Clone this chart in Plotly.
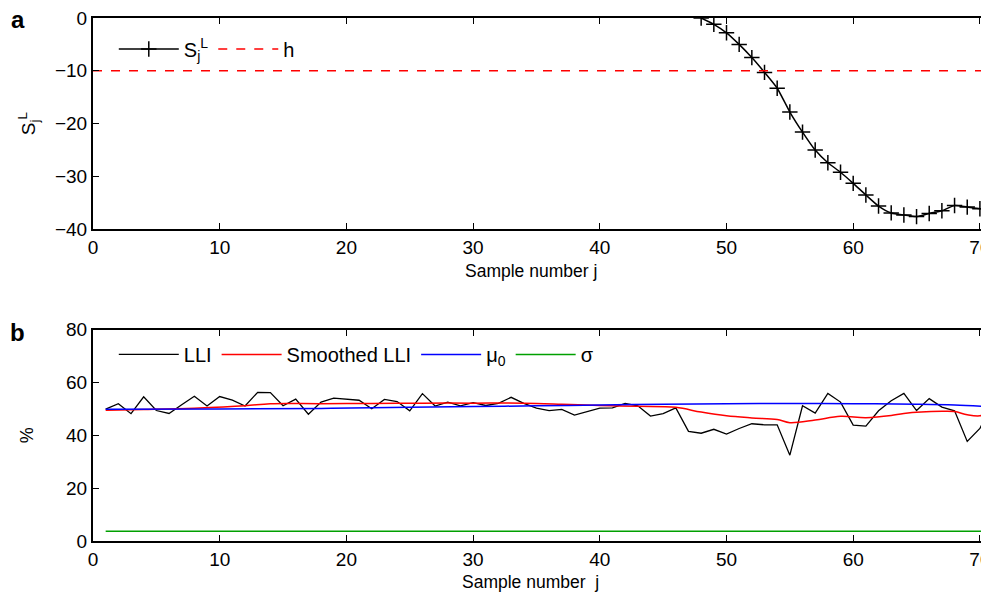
import plotly.graph_objects as go
from plotly.subplots import make_subplots

# panel a : lower CUSUM statistic
j_s = list(range(48, 72))
s_low = [0, -1.2, -2.8, -5.0, -7.5, -10.3, -13.3, -17.8, -21.6, -25.0, -27.4, -29.2,
         -31.3, -33.5, -35.6, -36.9, -37.3, -37.6, -37.0, -36.5, -35.5, -35.8, -36.1, -36.0]
h_level = -10

# panel b : LLI series
j = list(range(1, 72))
lli = [49.9, 52.0, 48.2, 54.6, 49.4, 48.3, 51.6, 54.8, 51.1, 54.7,
       53.3, 51.1, 56.3, 56.2, 51.2, 53.7, 48.0, 52.6, 54.1, 53.8,
       53.3, 50.1, 53.6, 52.8, 49.3, 55.8, 51.1, 52.6, 51.2, 52.4,
       51.3, 52.1, 54.4, 52.1, 50.3, 49.4, 49.8, 47.7, 49.1, 50.3,
       50.4, 52.1, 51.2, 47.3, 48.2, 50.4, 41.5, 40.8, 42.3, 40.5,
       42.6, 44.4, 44.0, 44.0, 32.5, 51.2, 48.4, 55.9, 52.6, 43.9,
       43.5, 49.3, 53.1, 55.9, 49.4, 53.9, 50.7, 49.3, 37.7, 42.6, 52.5]

j_smooth = [1, 4, 8, 12, 14, 18, 22, 26, 30, 34, 37, 40, 43, 46, 48, 50, 52, 54,
            55, 57, 59, 61, 63, 64, 67, 68, 69, 70, 71]
smoothed = [49.5, 49.8, 50.3, 51.2, 52.0, 52.0, 52.1, 52.2, 52.2, 52.2, 51.8, 51.3,
            51.0, 50.6, 48.8, 47.4, 46.6, 46.0, 44.8, 45.8, 47.2, 46.7, 47.5, 48.3,
            49.1, 49.0, 47.8, 47.4, 49.0]

j_mu = [1, 10, 18, 25, 30, 35, 40, 45, 50, 55, 60, 65, 68, 71]
mu0 = [49.9, 50.0, 50.2, 50.6, 50.9, 51.2, 51.5, 51.8, 52.0, 52.1, 52.0, 51.8, 51.5, 50.8]

j_sigma = [1, 72]
sigma = [3.7, 3.7]

FONT = "Liberation Sans, Arial, sans-serif"

fig = make_subplots(rows=2, cols=1, vertical_spacing=0.192)

fig.add_trace(go.Scatter(x=j_s, y=s_low, mode="lines+markers", name="S<sub>j</sub><sup>L</sup>",
                         line=dict(color="black", width=1.5, shape="spline", smoothing=0.6),
                         marker=dict(symbol="cross-thin", size=11, line=dict(color="black", width=1.5)),
                         legend="legend"), row=1, col=1)
fig.add_trace(go.Scatter(x=[0, 72], y=[h_level, h_level], mode="lines", name="h",
                         line=dict(color="red", width=1.5, dash="dash"),
                         legend="legend"), row=1, col=1)

fig.add_trace(go.Scatter(x=j, y=lli, mode="lines", name="LLI",
                         line=dict(color="black", width=1.3), legend="legend2"), row=2, col=1)
fig.add_trace(go.Scatter(x=j_smooth, y=smoothed, mode="lines", name="Smoothed LLI",
                         line=dict(color="red", width=1.5, shape="spline"), legend="legend2"), row=2, col=1)
fig.add_trace(go.Scatter(x=j_mu, y=mu0, mode="lines", name="μ<sub>0</sub>",
                         line=dict(color="blue", width=1.5, shape="spline"), legend="legend2"), row=2, col=1)
fig.add_trace(go.Scatter(x=j_sigma, y=sigma, mode="lines", name="σ",
                         line=dict(color="#00a000", width=1.5), legend="legend2"), row=2, col=1)

axis_style = dict(showline=True, linecolor="black", linewidth=2, ticks="inside", ticklen=6,
                  tickwidth=1.3, tickcolor="black", showgrid=False, zeroline=False,
                  ticklabeloverflow="allow",
                  tickfont=dict(size=19, color="black", family=FONT))

for r in (1, 2):
    fig.update_xaxes(range=[0, 71.35], dtick=10, mirror="ticks", **axis_style, row=r, col=1)

fig.update_yaxes(range=[-40, 0], dtick=10, **axis_style, row=1, col=1)
fig.update_yaxes(title=dict(text="S<sub>j</sub><sup>L</sup>", font=dict(size=19, color="black"), standoff=14),
                 row=1, col=1)
fig.update_yaxes(range=[0, 80], dtick=20, **axis_style, row=2, col=1)
fig.update_yaxes(title=dict(text="%", font=dict(size=18, color="black"), standoff=28), row=2, col=1)

legend_style = dict(orientation="h", bgcolor="rgba(0,0,0,0)", font=dict(size=20, color="black", family=FONT),
                    xanchor="left", yanchor="top", itemwidth=60, tracegroupgap=0)
fig.update_layout(
    width=989, height=599,
    margin=dict(l=85, r=0, t=7, b=66),
    plot_bgcolor="white", paper_bgcolor="white",
    font=dict(family=FONT, color="black"),
    legend=dict(x=0.023, y=0.978, **legend_style),
    legend2=dict(x=0.023, y=0.394, **legend_style),
    annotations=[
        dict(text="<b>a</b>", x=-0.083, y=0.998, xref="paper", yref="paper", showarrow=False,
             font=dict(size=24, color="black"), xanchor="center", yanchor="middle"),
        dict(text="<b>b</b>", x=-0.083, y=0.398, xref="paper", yref="paper", showarrow=False,
             font=dict(size=24, color="black"), xanchor="center", yanchor="middle"),
        dict(text="Sample number j", x=0.4845, y=0.516, xref="paper", yref="paper", showarrow=False,
             font=dict(size=17.5, color="black"), xanchor="center", yanchor="middle"),
        dict(text="Sample number\u00a0 j", x=0.4845, y=-0.078, xref="paper", yref="paper", showarrow=False,
             font=dict(size=17.5, color="black"), xanchor="center", yanchor="middle"),
    ],
)

fig.write_html("out.html")
